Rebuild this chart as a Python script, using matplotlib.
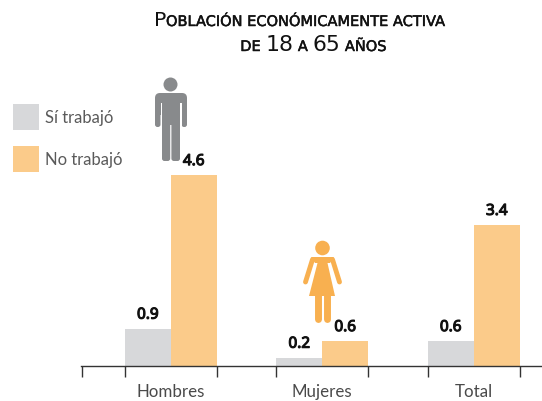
import matplotlib
matplotlib.use('Agg')
import matplotlib.pyplot as plt
import matplotlib.patheffects as pe
from matplotlib.patches import Rectangle, Circle, Polygon, FancyBboxPatch

categories = ['Hombres', 'Mujeres', 'Total']
si_trabajo = [0.9, 0.2, 0.6]
no_trabajo = [4.6, 0.6, 3.4]
series_names = ['Sí trabajó', 'No trabajó']
title_line_1 = [('P', 14.7), ('OBLACIÓN ECONÓMICAMENTE ACTIVA', 10.5)]
title_line_2 = [('DE ', 10.5), ('18', 15.8), (' A ', 10.5), ('65', 15.8), (' AÑOS', 10.5)]

GRAY = '#D7D8DA'
ORANGE = '#FBCB8A'
MAN = '#888A8C'
WOMAN = '#F8B050'
W, H = 542, 401

plt.rcParams['font.family'] = ['Lato', 'DejaVu Sans']

fig = plt.figure(figsize=(W / 100, H / 100), dpi=100)

# bars: group centres sit 151.5 px apart, 41.5 px per unit
px_x = 151.5
px_y = 41.5
bar_w = 46 / px_x
first_px = 170.8
left_px, right_px = 81, 542
ax = fig.add_axes([left_px / W, (H - 366) / H, (right_px - left_px) / W, 366 / H])
ax.set_xlim((left_px - first_px) / px_x, (right_px - first_px) / px_x)
ax.set_ylim(0, 366 / px_y)
ax.patch.set_alpha(0)

xs = list(range(len(categories)))
ax.bar([x - bar_w / 2 for x in xs], si_trabajo, bar_w, color=GRAY)
ax.bar([x + bar_w / 2 for x in xs], no_trabajo, bar_w, color=ORANGE)

# Noto Sans only comes in one weight here, so a stroke stands in for bold
bold_stroke = [pe.withStroke(linewidth=0.8, foreground='#111111')]
for x, v in zip(xs, si_trabajo):
    ax.annotate(f'{v}', (x - bar_w / 2, v), xytext=(0, 6), textcoords='offset pixels',
                ha='center', va='bottom', fontsize=11, color='#111111',
                family=['Noto Sans', 'DejaVu Sans'], path_effects=bold_stroke)
for x, v in zip(xs, no_trabajo):
    ax.annotate(f'{v}', (x + bar_w / 2, v), xytext=(0, 6), textcoords='offset pixels',
                ha='center', va='bottom', fontsize=11, color='#111111',
                family=['Noto Sans', 'DejaVu Sans'], path_effects=bold_stroke)

for s in ['top', 'left', 'right']:
    ax.spines[s].set_visible(False)
ax.spines['bottom'].set_color('#333333')
ax.spines['bottom'].set_linewidth(1.0)
ax.yaxis.set_visible(False)

edges = [ax.get_xlim()[0] + 0.5 / px_x]
for x in xs:
    edges += [x - bar_w, x + bar_w]
ax.set_xticks(edges)
ax.set_xticklabels([])
ax.tick_params(axis='x', length=7.9, width=1.0, color='#333333')
ax.set_xticks(xs, minor=True)
ax.set_xticklabels(categories, minor=True, fontsize=12.2, color='#4a4a4a')
ax.tick_params(axis='x', which='minor', length=0, pad=13)

# overlay in pixel coordinates for legend, icons and title
ov = fig.add_axes([0, 0, 1, 1])
ov.set_xlim(0, W)
ov.set_ylim(H, 0)
ov.axis('off')
ov.patch.set_alpha(0)

for y, c, name in zip([104, 146], [GRAY, ORANGE], series_names):
    ov.add_patch(Rectangle((13, y), 26, 26, color=c, lw=0))
    ov.text(45, y + 19, name, fontsize=12, color='#5a5a5a', va='baseline', ha='left')


def round_bar(x0, y0, x1, y1, color, r=2.5):
    ov.add_patch(FancyBboxPatch((x0 + r, y0 + r), x1 - x0 - 2 * r, y1 - y0 - 2 * r,
                                boxstyle=f'round,pad={r},rounding_size={r}', fc=color, ec='none'))


# man
ov.add_patch(Circle((170.5, 84.5), 7, color=MAN, lw=0))
round_bar(155, 93, 187, 115, MAN, r=5)
round_bar(155, 100, 160.5, 127, MAN)
round_bar(181.5, 100, 187, 127, MAN)
ov.add_patch(Rectangle((162, 100), 18, 25, color=MAN, lw=0))
round_bar(162, 120, 170.2, 161, MAN)
round_bar(171.4, 120, 180, 161, MAN)
ov.add_patch(Rectangle((160.5, 103), 1.5, 24, color='white', lw=0))
ov.add_patch(Rectangle((180, 103), 1.5, 24, color='white', lw=0))

# woman
ov.add_patch(Circle((322.5, 248), 7.3, color=WOMAN, lw=0))
ov.add_patch(Polygon([(318, 257), (327, 257), (327.5, 263), (335, 296), (309, 296), (317.5, 263)],
                     color=WOMAN, lw=0))
ov.add_patch(Polygon([(311, 257), (334, 257), (330, 263), (315, 263)], color=WOMAN, lw=0))
ov.plot([312.5, 305.5], [259.5, 282], color=WOMAN, lw=3.5, solid_capstyle='round')
ov.plot([332.5, 339.5], [259.5, 282], color=WOMAN, lw=3.5, solid_capstyle='round')
ov.plot([318, 318], [294, 319], color=WOMAN, lw=5, solid_capstyle='round')
ov.plot([327, 327], [294, 319], color=WOMAN, lw=5, solid_capstyle='round')


def small_caps_line(runs, cx, y_base):
    # measure first so the mixed-size line can be centred
    renderer = fig.canvas.get_renderer()
    items = []
    total = 0
    for s, size in runs:
        t = ov.text(0, y_base, s, fontsize=size, va='baseline', ha='left', color='#111111',
                    family=['DejaVu Sans'])
        # only the small caps are heavier than DejaVu regular in the original
        if size < 12:
            t.set_path_effects([pe.withStroke(linewidth=0.35, foreground='#111111')])
        probe = ov.text(0, y_base, s.replace(' ', '\u00a0'), fontsize=size, family=['DejaVu Sans'])
        w = probe.get_window_extent(renderer).width
        probe.remove()
        items.append((t, w))
        total += w
    x = cx - total / 2
    for t, w in items:
        t.set_x(x)
        x += w


small_caps_line(title_line_1, 299.5, 26)
small_caps_line(title_line_2, 313.5, 51)

fig.savefig('out.png', dpi=100)
